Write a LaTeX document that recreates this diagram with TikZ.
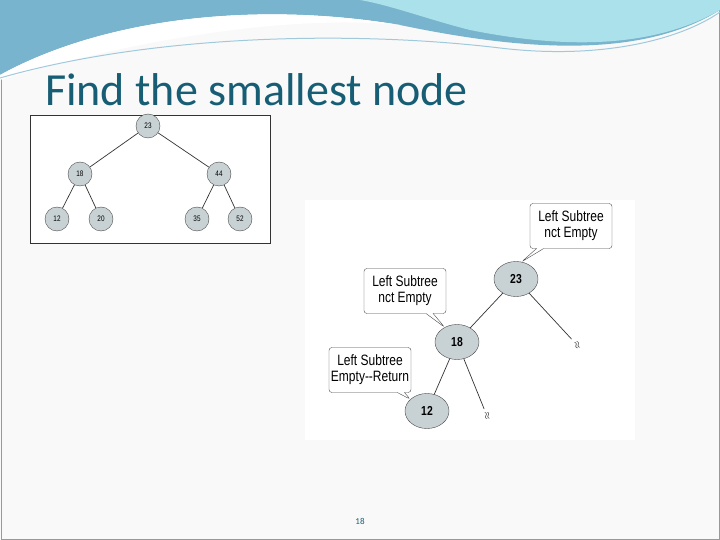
\documentclass[tikz,border=0pt]{standalone}
\usepackage{fontspec}
\setmainfont{Carlito}
\newfontfamily\narrowfont{Liberation Sans}[FakeStretch=0.8]
\usetikzlibrary{positioning,shapes.geometric,shapes.callouts}
\definecolor{titleblue}{RGB}{23,94,117}
\definecolor{wavedark}{RGB}{120,180,205}
\definecolor{wavelight}{RGB}{170,225,235}
\definecolor{nodegray}{RGB}{200,210,212}

\begin{document}
\begin{tikzpicture}[x=1pt,y=-1pt,
        small/.style={circle, draw=black!70, fill=nodegray, minimum size=24pt, inner sep=0pt, font=\narrowfont\fontsize{8}{8}\selectfont},
        big/.style={ellipse, draw=black!70, fill=nodegray, minimum width=44pt, minimum height=35pt, inner sep=0pt, font=\narrowfont\bfseries\fontsize{13}{13}\selectfont},
        note/.style={rectangle callout, draw=black!70, fill=white, rounded corners=3pt, align=center, inner sep=2pt, minimum width=82pt, minimum height=45pt, font=\narrowfont\fontsize{15}{16}\selectfont},
        edge/.style={draw=black!80, line width=0.7pt}]
    \useasboundingbox (0,0) rectangle (720,540);
    \fill[white!95!gray] (0,0) rectangle (720,540);
    \draw[black!40] (1,1) rectangle (719,539);
    % header waves
    \fill[wavedark] (0,0) -- (720,0) -- (720,10) .. controls (640,60) and (520,50) .. (400,25) .. controls (250,0) and (100,20) .. (0,75) -- cycle;
    \fill[wavelight] (360,0) -- (720,0) -- (720,10) .. controls (650,50) and (560,48) .. (470,30) .. controls (430,20) and (390,5) .. (360,0) -- cycle;
    \fill[white] (0,75) .. controls (100,20) and (250,0) .. (400,25) .. controls (300,15) and (150,35) .. (0,80) -- cycle;
    \draw[wavedark!70, line width=1pt] (0,78) .. controls (150,35) and (350,30) .. (500,48) .. controls (600,60) and (680,40) .. (720,12);
    % title
    \node (title) [anchor=base west, text=titleblue, font=\fontsize{46}{46}\selectfont, inner sep=0pt] at (45,106) {Find the smallest node};
    % left tree
    \draw[draw=black!80, fill=white] (30,115) rectangle (270,243);
    \node (a23) [small] at (148,126) {23};
    \node (a18) [small] at (80,174) {18};
    \node (a44) [small] at (219,174) {44};
    \node (a12) [small] at (57,219) {12};
    \node (a20) [small] at (101,219) {20};
    \node (a35) [small] at (197,219) {35};
    \node (a52) [small] at (240,219) {52};
    \draw[edge] (a23) -- (a18);
    \draw[edge] (a23) -- (a44);
    \draw[edge] (a18) -- (a12);
    \draw[edge] (a18) -- (a20);
    \draw[edge] (a44) -- (a35);
    \draw[edge] (a44) -- (a52);
    % right tree
    \fill[white] (305,200) rectangle (635,440);
    \node (b23) [big] at (516,279) {23};
    \node (b18) [big] at (457,342) {18};
    \node (b12) [big] at (427,411) {12};
    \node (cut1) [rotate=-70] at (577,345) {$\approx$};
    \node (cut2) [rotate=-80] at (487,416) {$\approx$};
    \draw[edge] (b23) -- (cut1);
    \draw[edge] (b23) -- (b18);
    \draw[edge] (b18) -- (b12);
    \draw[edge] (b18) -- (cut2);
    \node (n1) [note, callout absolute pointer={(b23.72)}] at (571,226) {Left Subtree\\nct Empty};
    \node (n2) [note, callout absolute pointer={(b18.130)}] at (405,291) {Left Subtree\\nct Empty};
    \node (n3) [note, callout absolute pointer={(b12.145)}] at (370,370) {Left Subtree\\Empty--Return};
    % page number
    \node (page) [text=titleblue, font=\fontsize{9}{9}\selectfont] at (360,521) {18};
\end{tikzpicture}
\end{document}
